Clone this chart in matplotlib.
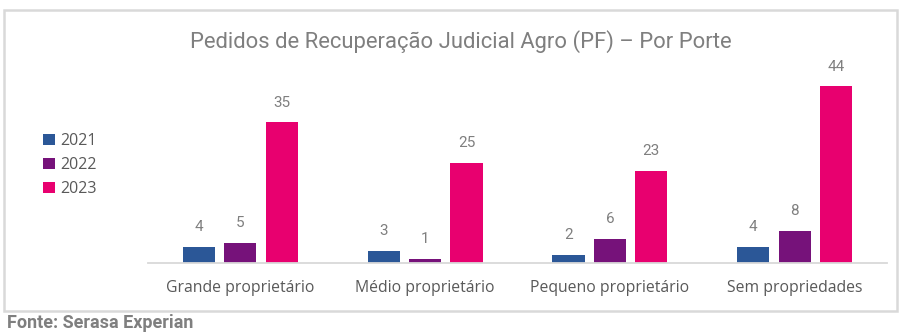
import numpy as np
import matplotlib.pyplot as plt
from matplotlib.patches import Rectangle

categories = ["Grande proprietário", "Médio proprietário", "Pequeno proprietário", "Sem propriedades"]
years = ["2021", "2022", "2023"]
v2021 = [4, 3, 2, 4]
v2022 = [5, 1, 6, 8]
v2023 = [35, 25, 23, 44]
colors = ["#2B5797", "#76127A", "#E8006F"]

W, H = 911, 335
fig = plt.figure(figsize=(W / 100, H / 100), dpi=100)
fig.patch.set_facecolor("white")

# outer frame of the chart
fig.patches.append(Rectangle((4 / W, 1 - 311 / H), 893 / W, 301 / H, transform=fig.transFigure,
                             fill=False, edgecolor="#d9d9d9", linewidth=1.8))

ax = fig.add_axes([148 / W, 72 / H, 739 / W, 201 / H])
x = np.arange(len(categories))
bw = 0.174
step = 0.224
for i, (vals, c) in enumerate(zip([v2021, v2022, v2023], colors)):
    bars = ax.bar(x + (i - 1) * step, vals, bw, color=c, label=years[i])
    for b, v in zip(bars, vals):
        ax.annotate(str(v), (b.get_x() + b.get_width() / 2, v), xytext=(0, 9),
                    textcoords="offset points", ha="center", va="bottom",
                    fontsize=11, color="#7f7f7f", family="Roboto")

ax.set_xlim(-0.5, len(categories) - 0.5)
ax.set_ylim(0, 50)
ax.set_yticks([])
ax.set_xticks(x)
ax.set_xticklabels(categories, fontsize=11.3, color="#595959", family="Open Sans")
ax.tick_params(axis="x", length=0, pad=12)
for s in ["top", "right", "left"]:
    ax.spines[s].set_visible(False)
ax.spines["bottom"].set_color("#d9d9d9")
ax.spines["bottom"].set_linewidth(1.3)

fig.text(461 / W, 1 - 42 / H, "Pedidos de Recuperação Judicial Agro (PF) – Por Porte",
         ha="center", va="center", fontsize=15.8, color="#7f7f7f", family="Roboto")

leg = fig.legend(loc="upper left", bbox_to_anchor=(29 / W, 1 - 119 / H), frameon=False,
                 handlelength=0.7, handleheight=0.7, handletextpad=0.35, labelspacing=0.5,
                 prop={"family": "Open Sans", "size": 11.5})
for t in leg.get_texts():
    t.set_color("#595959")

fig.text(7 / W, 1 - 323 / H, "Fonte: Serasa Experian", ha="left", va="center",
         fontsize=13, fontweight="bold", color="#7f7f7f", family="Roboto")

fig.savefig("out.png", dpi=100)
